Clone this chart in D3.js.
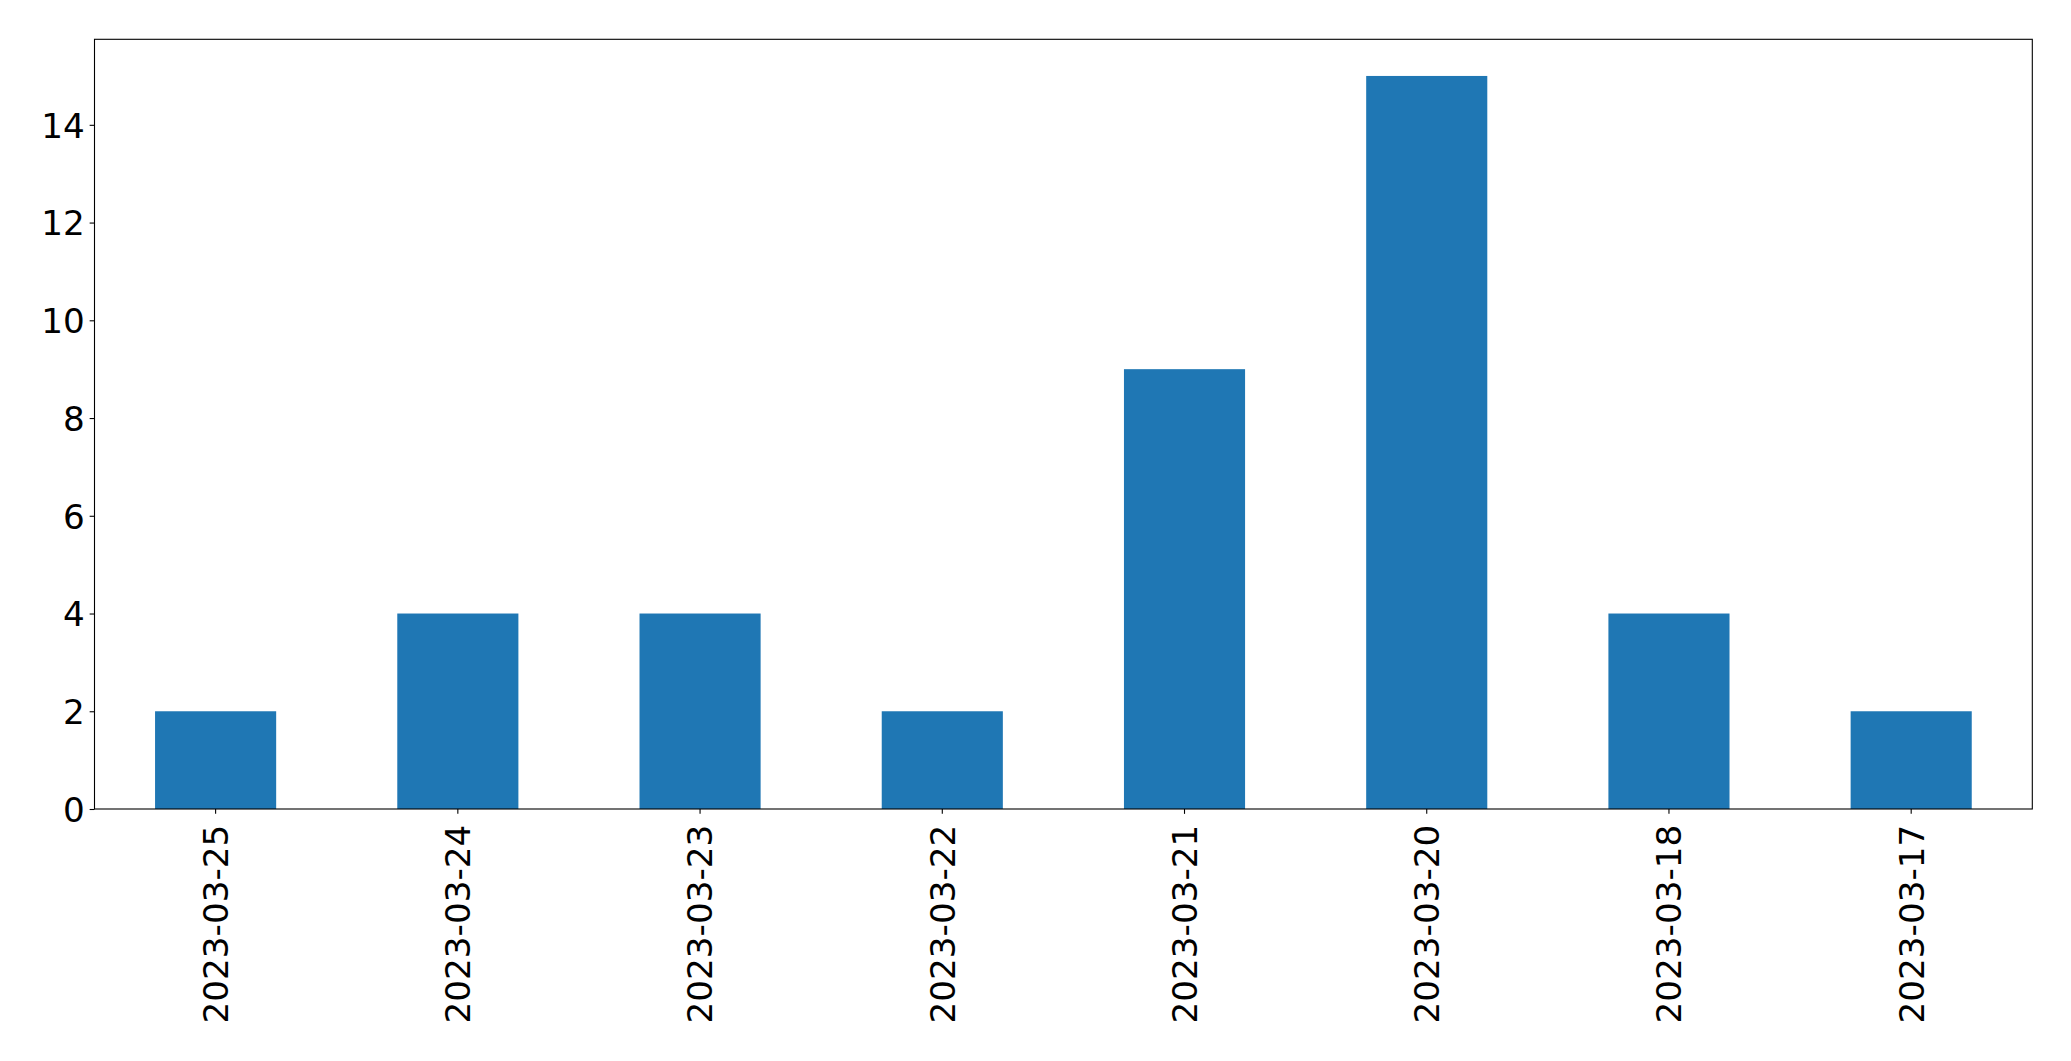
<!DOCTYPE html>
<html>
<head>
<meta charset="utf-8">
<script src="https://cdn.jsdelivr.net/npm/d3@7"></script>
<style>
  html, body { margin: 0; padding: 0; background: #fff; }
  svg { display: block; }
  text { font-family: "DejaVu Sans", sans-serif; fill: #000; }
</style>
</head>
<body>
<svg id="chart" width="2071" height="1061"></svg>
<script>
const categories = ["2023-03-25", "2023-03-24", "2023-03-23", "2023-03-22", "2023-03-21", "2023-03-20", "2023-03-18", "2023-03-17"];
const values = [2, 4, 4, 2, 9, 15, 4, 2];
const yTicks = [0, 2, 4, 6, 8, 10, 12, 14];

const W = 2071, H = 1061;
const m = { left: 94.5, top: 39.3, right: 2032.3, bottom: 809 };
const svg = d3.select("#chart");

const x = d3.scaleBand().domain(categories).range([m.left, m.right]).paddingInner(0.5).paddingOuter(0.25);
const y = d3.scaleLinear().domain([0, d3.max(values) * 1.05]).range([m.bottom, m.top]);

const fs = 34.2, tickLen = 4.86, pad = 4.86;

svg.append("g").selectAll("rect").data(values).join("rect")
  .attr("x", (d, i) => x(categories[i]))
  .attr("width", x.bandwidth())
  .attr("y", d => y(d))
  .attr("height", d => y(0) - y(d))
  .attr("fill", "#1f77b4");

// frame
svg.append("rect")
  .attr("x", m.left).attr("y", m.top)
  .attr("width", m.right - m.left).attr("height", m.bottom - m.top)
  .attr("fill", "none").attr("stroke", "#000").attr("stroke-width", 1.1);

// y axis
const yAxis = d3.axisLeft(y).tickValues(yTicks).tickSize(tickLen).tickPadding(pad).tickFormat(d3.format("d"));
const gy = svg.append("g").attr("transform", `translate(${m.left},0)`).call(yAxis);
gy.select(".domain").remove();
gy.selectAll(".tick line").attr("stroke", "#000").attr("stroke-width", 1.1);
gy.selectAll(".tick text").style("font-size", fs + "px").style("font-family", "DejaVu Sans").attr("fill", "#000")
  .attr("dy", "0.36em");

// x axis
const xAxis = d3.axisBottom(x).tickSize(tickLen).tickPadding(pad);
const gx = svg.append("g").attr("transform", `translate(0,${m.bottom})`).call(xAxis);
gx.select(".domain").remove();
gx.selectAll(".tick line").attr("stroke", "#000").attr("stroke-width", 1.1);
gx.selectAll(".tick text")
  .style("font-size", fs + "px").style("font-family", "DejaVu Sans").attr("fill", "#000")
  .attr("y", 0).attr("dy", "0.36em")
  .attr("text-anchor", "end")
  .attr("transform", `translate(0,${tickLen + pad + 6}) rotate(-90)`);
</script>
</body>
</html>
